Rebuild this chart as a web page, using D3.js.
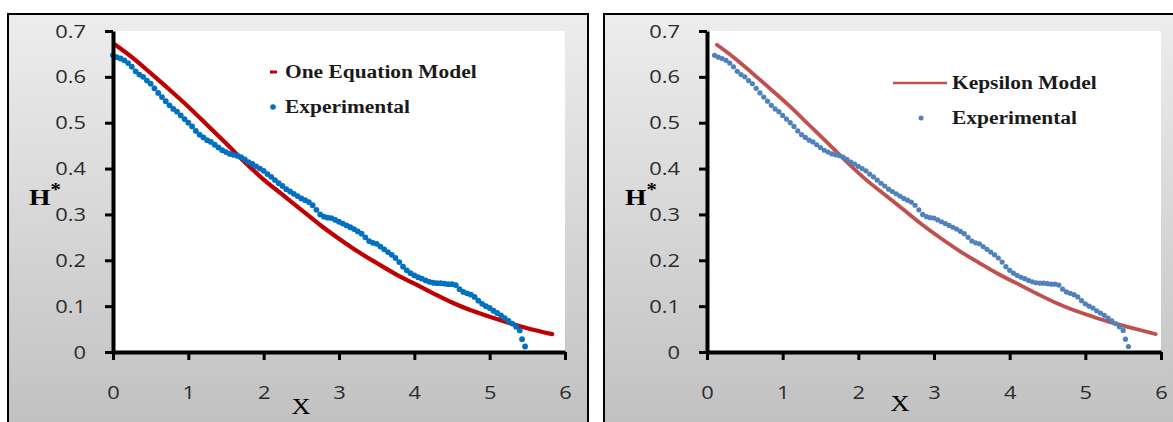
<!DOCTYPE html>
<html>
<head>
<meta charset="utf-8">
<script src="https://cdn.jsdelivr.net/npm/d3@7"></script>
<style>
  body { margin: 0; background: #fff; }
  svg { display: block; }
</style>
</head>
<body>
<svg id="chart" width="1173" height="422"></svg>
<script>
// axis ticks
var xTicks = [0, 1, 2, 3, 4, 5, 6];
var xTickLabels = ['0', '1', '2', '3', '4', '5', '6'];
var yTicks = [0, 0.1, 0.2, 0.3, 0.4, 0.5, 0.6, 0.7];
var yTickLabels = ['0', '0.1', '0.2', '0.3', '0.4', '0.5', '0.6', '0.7'];

// experimental points [X, H*]
var experimental = [
	[0.00,0.647],[0.05,0.643],[0.10,0.640],[0.15,0.636],[0.20,0.630],[0.25,0.622],[0.30,0.612],
	[0.35,0.605],[0.40,0.600],[0.45,0.592],[0.50,0.585],[0.55,0.575],[0.60,0.565],[0.65,0.556],
	[0.70,0.547],[0.75,0.538],[0.80,0.530],[0.85,0.524],[0.90,0.516],[0.95,0.508],[1.00,0.500],
	[1.05,0.492],[1.10,0.482],[1.15,0.474],[1.20,0.468],[1.25,0.462],[1.30,0.458],[1.35,0.452],
	[1.40,0.446],[1.45,0.440],[1.50,0.436],[1.55,0.432],[1.60,0.430],[1.65,0.428],[1.70,0.425],
	[1.75,0.420],[1.80,0.414],[1.85,0.410],[1.90,0.405],[1.95,0.400],[2.00,0.395],[2.05,0.388],
	[2.10,0.382],[2.15,0.375],[2.20,0.368],[2.25,0.362],[2.30,0.355],[2.35,0.350],[2.40,0.345],
	[2.45,0.340],[2.50,0.335],[2.55,0.331],[2.60,0.327],[2.65,0.320],[2.70,0.310],[2.75,0.300],
	[2.80,0.295],[2.85,0.293],[2.90,0.292],[2.95,0.288],[3.00,0.284],[3.05,0.280],[3.10,0.276],
	[3.15,0.272],[3.20,0.268],[3.25,0.263],[3.30,0.258],[3.35,0.250],[3.40,0.242],[3.45,0.238],
	[3.50,0.236],[3.55,0.230],[3.60,0.224],[3.65,0.218],[3.70,0.212],[3.75,0.205],[3.80,0.196],
	[3.85,0.186],[3.90,0.178],[3.95,0.172],[4.00,0.167],[4.05,0.163],[4.10,0.160],[4.15,0.156],
	[4.20,0.153],[4.25,0.151],[4.30,0.150],[4.35,0.150],[4.40,0.149],[4.45,0.148],[4.50,0.148],
	[4.55,0.146],[4.60,0.137],[4.65,0.131],[4.70,0.128],[4.75,0.125],[4.80,0.120],[4.85,0.112],
	[4.90,0.105],[4.95,0.100],[5.00,0.096],[5.05,0.090],[5.10,0.085],[5.15,0.080],[5.20,0.074],
	[5.25,0.068],[5.30,0.062],[5.35,0.055],[5.40,0.047],[5.43,0.028],[5.47,0.012]
];

// one equation model [X, H*]
var oneEquationModel = [
	[0.03,0.670],[0.25,0.643],[0.50,0.608],[0.75,0.572],[1.00,0.535],[1.25,0.495],[1.50,0.455],
	[1.75,0.414],[2.00,0.376],[2.25,0.343],[2.50,0.310],[2.75,0.277],[3.00,0.247],[3.25,0.219],
	[3.50,0.194],[3.75,0.170],[4.00,0.149],[4.25,0.128],[4.50,0.108],[4.75,0.091],[5.00,0.077],
	[5.25,0.064],[5.50,0.052],[5.83,0.039]
];

// k-epsilon model [X, H*]
var kepsilonModel = [
	[0.13,0.670],[0.35,0.643],[0.60,0.608],[0.85,0.572],[1.10,0.535],[1.35,0.495],[1.60,0.455],
	[1.85,0.414],[2.10,0.376],[2.35,0.343],[2.60,0.310],[2.85,0.277],[3.10,0.247],[3.35,0.219],
	[3.60,0.194],[3.85,0.170],[4.10,0.149],[4.35,0.128],[4.60,0.108],[4.85,0.091],[5.10,0.077],
	[5.35,0.064],[5.60,0.053],[5.93,0.039]
];

var expShiftRight = 0.1;

var svg = d3.select('#chart');

var grad = svg.append('defs').append('linearGradient')
	.attr('id', 'bg')
	.attr('x1', '0%').attr('y1', '0%')
	.attr('x2', '0%').attr('y2', '100%');
grad.append('stop').attr('offset', '0%').attr('stop-color', '#ededed');
grad.append('stop').attr('offset', '100%').attr('stop-color', '#bfbfbf');

// stretch text horizontally, the original picture is wider than tall
var stretch = function(sel, k) {
	sel.each(function() {
		var w = this.getComputedTextLength();
		d3.select(this)
			.attr('textLength', w * k)
			.attr('lengthAdjust', 'spacingAndGlyphs');
	});
}

var panels = [
	{frameX: 8, left: 113, right: 565, model: oneEquationModel, modelName: 'One Equation Model',
	 shift: 0, modelColor: '#c00000', expColor: '#0070c0', lineModel: false,
	 legend: {x: 262, text: 277, y1: 72, y2: 107}, xLabel: 301, xLabelY: 414},
	{frameX: 604, left: 707, right: 1161, model: kepsilonModel, modelName: 'Kepsilon Model',
	 shift: expShiftRight, modelColor: '#c0504d', expColor: '#4f81bd', lineModel: true,
	 legend: {x: 289, text: 348, y1: 83, y2: 118}, xLabel: 900, xLabelY: 411}
];

var plotTop = 31, plotBottom = 352;

panels.forEach(function(p) {
	var g = svg.append('g');

	g.append('rect')
		.attr('x', p.frameX)
		.attr('y', 14)
		.attr('width', 580)
		.attr('height', 430)
		.attr('fill', 'url(#bg)')
		.attr('stroke', '#000')
		.attr('stroke-width', 2);

	var x = d3.scaleLinear().domain([0, 6]).range([p.left, p.right]);
	var y = d3.scaleLinear().domain([0, 0.7]).range([plotBottom, plotTop]);

	g.append('rect')
		.attr('x', p.left)
		.attr('y', plotTop)
		.attr('width', p.right - p.left)
		.attr('height', plotBottom - plotTop)
		.attr('fill', '#fff');

	// model curve
	var line = d3.line()
		.x(d => x(d[0]))
		.y(d => y(d[1]))
		.curve(d3.curveMonotoneX);

	g.append('path')
		.datum(p.model)
		.attr('d', line)
		.attr('fill', 'none')
		.attr('stroke', p.modelColor)
		.attr('stroke-width', p.lineModel ? 3.8 : 4.2)
		.attr('stroke-linecap', 'round');

	// experimental dots
	g.selectAll('circle.exp')
		.data(experimental)
		.enter()
		.append('circle')
		.attr('class', 'exp')
		.attr('cx', d => x(d[0] + p.shift))
		.attr('cy', d => y(d[1]))
		.attr('r', p.lineModel ? 2.6 : 2.9)
		.attr('fill', p.expColor);

	// axes
	var yAxis = g.append('g')
		.attr('transform', 'translate(' + p.left + ',0)')
		.call(d3.axisLeft(y)
			.tickValues(yTicks)
			.tickFormat((d, i) => yTickLabels[i])
			.tickSize(8)
			.tickSizeOuter(0)
			.tickPadding(19));

	var xAxis = g.append('g')
		.attr('transform', 'translate(0,' + plotBottom + ')')
		.call(d3.axisBottom(x)
			.tickValues(xTicks)
			.tickFormat((d, i) => xTickLabels[i])
			.tickSize(8)
			.tickSizeOuter(0)
			.tickPadding(26));

	[yAxis, xAxis].forEach(function(ax) {
		ax.select('.domain').attr('stroke', '#000').attr('stroke-width', 4);
		ax.selectAll('.tick line').attr('stroke', '#000').attr('stroke-width', 3);
		ax.selectAll('.tick text')
			.attr('fill', '#2b2b2b')
			.attr('font-family', '"Open Sans", Lato, sans-serif')
			.attr('font-size', 19)
			.call(stretch, 1.15);
	});

	// axis titles
	var ht = g.append('text')
		.attr('x', p.frameX + 21)
		.attr('y', 205)
		.attr('font-family', '"Liberation Serif", serif')
		.attr('font-weight', 'bold')
		.attr('font-size', 24)
		.attr('fill', '#000');
	ht.append('tspan').text('H');
	ht.append('tspan').attr('dy', -9).attr('font-size', 18).text('*');
	ht.call(stretch, 1.15);

	g.append('text')
		.attr('x', p.xLabel)
		.attr('y', p.xLabelY)
		.attr('text-anchor', 'middle')
		.attr('font-family', '"Liberation Serif", serif')
		.attr('font-size', 24)
		.attr('fill', '#000')
		.text('X')
		.call(stretch, 1.1);

	// legend
	var lg = g.append('g').attr('transform', 'translate(' + p.frameX + ',0)');
	if (p.lineModel) {
		lg.append('line')
			.attr('x1', p.legend.x).attr('x2', p.legend.x + 54)
			.attr('y1', p.legend.y1).attr('y2', p.legend.y1)
			.attr('stroke', p.modelColor)
			.attr('stroke-width', 2.5);
		lg.append('circle')
			.attr('cx', p.legend.x + 28)
			.attr('cy', p.legend.y2)
			.attr('r', 2.5)
			.attr('fill', p.expColor);
	} else {
		lg.append('line')
			.attr('x1', p.legend.x).attr('x2', p.legend.x + 7)
			.attr('y1', p.legend.y1).attr('y2', p.legend.y1)
			.attr('stroke', p.modelColor)
			.attr('stroke-width', 3);
		lg.append('circle')
			.attr('cx', p.legend.x + 3)
			.attr('cy', p.legend.y2)
			.attr('r', 2.8)
			.attr('fill', p.expColor);
	}
	[[p.modelName, p.legend.y1], ['Experimental', p.legend.y2]].forEach(function(t) {
		lg.append('text')
			.attr('x', p.legend.text)
			.attr('y', t[1])
			.attr('dy', '0.35em')
			.attr('font-family', '"Liberation Serif", serif')
			.attr('font-weight', 'bold')
			.attr('font-size', 18)
			.attr('fill', '#1a1a1a')
			.text(t[0])
			.call(stretch, 1.19);
	});
});
</script>
</body>
</html>
